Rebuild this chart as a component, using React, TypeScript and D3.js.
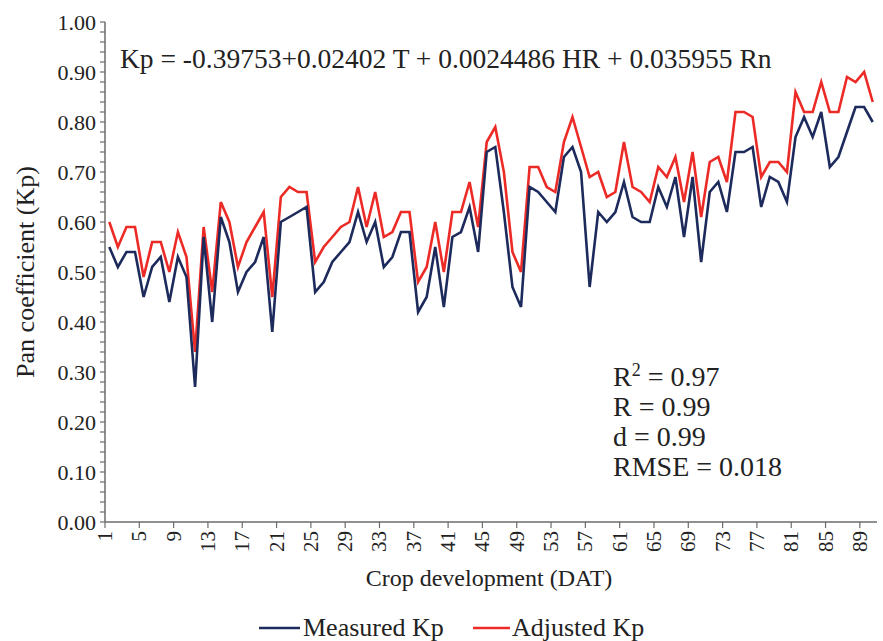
import React from "react";
import * as d3 from "d3";

const days: number[] = Array.from({ length: 90 }, (_, i) => i + 1);

const measuredKp: number[] = [
  0.55, 0.51, 0.54, 0.54, 0.45, 0.51, 0.53, 0.44, 0.53, 0.49,
  0.27, 0.57, 0.40, 0.61, 0.56, 0.46, 0.50, 0.52, 0.57, 0.38,
  0.60, 0.61, 0.62, 0.63, 0.46, 0.48, 0.52, 0.54, 0.56, 0.62,
  0.56, 0.60, 0.51, 0.53, 0.58, 0.58, 0.42, 0.45, 0.55, 0.43,
  0.57, 0.58, 0.63, 0.54, 0.74, 0.75, 0.62, 0.47, 0.43, 0.67,
  0.66, 0.64, 0.62, 0.73, 0.75, 0.70, 0.47, 0.62, 0.60, 0.62,
  0.68, 0.61, 0.60, 0.60, 0.67, 0.63, 0.69, 0.57, 0.69, 0.52,
  0.66, 0.68, 0.62, 0.74, 0.74, 0.75, 0.63, 0.69, 0.68, 0.64,
  0.77, 0.81, 0.77, 0.82, 0.71, 0.73, 0.78, 0.83, 0.83, 0.80,
];

const adjustedKp: number[] = [
  0.60, 0.55, 0.59, 0.59, 0.49, 0.56, 0.56, 0.50, 0.58, 0.53,
  0.34, 0.59, 0.46, 0.64, 0.60, 0.51, 0.56, 0.59, 0.62, 0.45,
  0.65, 0.67, 0.66, 0.66, 0.52, 0.55, 0.57, 0.59, 0.60, 0.67,
  0.59, 0.66, 0.57, 0.58, 0.62, 0.62, 0.48, 0.51, 0.60, 0.50,
  0.62, 0.62, 0.68, 0.59, 0.76, 0.79, 0.70, 0.54, 0.50, 0.71,
  0.71, 0.67, 0.66, 0.76, 0.81, 0.75, 0.69, 0.70, 0.65, 0.66,
  0.76, 0.67, 0.66, 0.64, 0.71, 0.69, 0.73, 0.64, 0.74, 0.61,
  0.72, 0.73, 0.68, 0.82, 0.82, 0.81, 0.69, 0.72, 0.72, 0.70,
  0.86, 0.82, 0.82, 0.88, 0.82, 0.82, 0.89, 0.88, 0.90, 0.84,
];

const yTicks: number[] = [0, 0.1, 0.2, 0.3, 0.4, 0.5, 0.6, 0.7, 0.8, 0.9, 1.0];
const xTickLabels: number[] = days.filter((d) => (d - 1) % 4 === 0);

const equationText = "Kp = -0.39753+0.02402 T + 0.0024486 HR + 0.035955 Rn";
const statLines: string[] = ["R = 0.99", "d = 0.99", "RMSE = 0.018"];

const NAVY = "#1d2a5c";
const RED = "#ec2a26";
const AXIS = "#6b6b6b";
const FONT = "'Liberation Serif', 'Times New Roman', serif";

export default function App() {
  const W = 883;
  const H = 641;
  const left = 105;
  const right = 877;
  const top = 22;
  const bottom = 522;

  const x = d3.scaleBand<number>().domain(days).range([left, right]).padding(0);
  const bw = x.bandwidth();
  const cx = (d: number) => (x(d) as number) + bw / 2;
  const y = d3.scaleLinear().domain([0, 1]).range([bottom, top]);

  const line = d3
    .line<number>()
    .x((_, i) => cx(days[i]))
    .y((v) => y(v));

  const minorTicks = d3.range(0, 1.0001, 0.02);
  const xTickPos = d3.range(0, 89, 4).map((k) => left + k * bw);

  return (
    <svg
      width={W}
      height={H}
      style={{ position: "absolute", left: 0, top: 0, background: "#fff" }}
      fontFamily={FONT}
    >
      <rect x={0} y={0} width={W} height={H} fill="#fff" />
      {/* y axis */}
      <line x1={left} x2={left} y1={top} y2={bottom} stroke={AXIS} strokeWidth={1.5} />
      {minorTicks.map((t, i) => (
        <line key={"m" + i} x1={left - 5} x2={left} y1={y(t)} y2={y(t)} stroke={AXIS} strokeWidth={1.2} />
      ))}
      {yTicks.map((t) => (
        <text key={"yt" + t} x={left - 9} y={y(t)} dy="0.35em" textAnchor="end" fontSize={22} fill="#222">
          {t.toFixed(2)}
        </text>
      ))}
      {/* x axis */}
      <line x1={left} x2={right} y1={bottom} y2={bottom} stroke={AXIS} strokeWidth={1.5} />
      {xTickPos.map((p, i) => (
        <line key={"xt" + i} x1={p} x2={p} y1={bottom} y2={bottom + 6} stroke={AXIS} strokeWidth={1.2} />
      ))}
      {xTickLabels.map((d, i) => (
        <text
          key={"xl" + d}
          transform={`translate(${xTickPos[i] + 7},${bottom + 9}) rotate(-90)`}
          textAnchor="end"
          fontSize={21}
          fill="#222"
        >
          {d}
        </text>
      ))}
      {/* series */}
      <path d={line(adjustedKp) || ""} fill="none" stroke={RED} strokeWidth={2.6} strokeLinejoin="miter" />
      <path d={line(measuredKp) || ""} fill="none" stroke={NAVY} strokeWidth={2.6} strokeLinejoin="miter" />
      {/* titles */}
      <text
        transform={`translate(34,${(top + bottom) / 2}) rotate(-90)`}
        textAnchor="middle"
        fontSize={26}
        fill="#222"
      >
        Pan coefficient (Kp)
      </text>
      <text x={(left + right) / 2 - 2} y={586} textAnchor="middle" fontSize={24} fill="#222">
        Crop development (DAT)
      </text>
      {/* equation */}
      <text x={120} y={68} fontSize={27.5} fill="#222">
        {equationText}
      </text>
      {/* stats */}
      <text x={613} y={386} fontSize={28} fill="#222">
        R<tspan dy={-10} fontSize={18}>2</tspan>
        <tspan dy={10}> = 0.97</tspan>
      </text>
      {statLines.map((s, i) => (
        <text key={s} x={613} y={416 + i * 30} fontSize={28} fill="#222">
          {s}
        </text>
      ))}
      {/* legend */}
      <line x1={259} x2={300} y1={628} y2={628} stroke={NAVY} strokeWidth={2.6} />
      <text x={303} y={636} fontSize={26} fill="#222">Measured Kp</text>
      <line x1={473} x2={510} y1={628} y2={628} stroke={RED} strokeWidth={2.6} />
      <text x={512} y={636} fontSize={26} fill="#222">Adjusted Kp</text>
    </svg>
  );
}
